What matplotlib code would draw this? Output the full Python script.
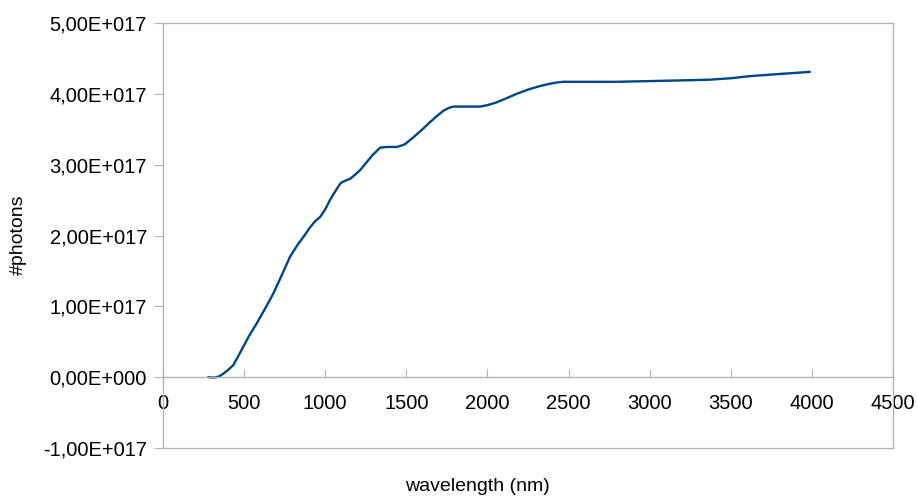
import matplotlib
matplotlib.use("Agg")
import matplotlib.pyplot as plt
import numpy as np

plt.rcParams['font.family'] = ['Liberation Sans', 'DejaVu Sans']

# Data (wavelength in nm, photons in units of 1e17)
wavelength = [279, 300, 320, 345, 372, 400, 433, 460, 495, 530, 578, 630,
              680, 730, 783, 830, 875, 905, 937, 968, 1000, 1029, 1050, 1075,
              1095, 1111, 1130, 1153, 1180, 1214, 1250, 1290, 1338, 1380,
              1420, 1441, 1470, 1492, 1540, 1595, 1646, 1690, 1728, 1760,
              1790, 1850, 1954, 2000, 2057, 2120, 2180, 2250, 2324, 2380,
              2427, 2470, 2509, 2632, 2800, 3002, 3200, 3372, 3500, 3619,
              3800, 3988]
photons_e17 = [0.0, -0.005, -0.005, 0.01, 0.05, 0.10, 0.17, 0.28, 0.43,
               0.58, 0.76, 0.97, 1.18, 1.43, 1.70, 1.87, 2.01, 2.11, 2.20,
               2.26, 2.37, 2.50, 2.58, 2.67, 2.74, 2.76, 2.78, 2.80, 2.85,
               2.92, 3.02, 3.13, 3.24, 3.25, 3.25, 3.25, 3.27, 3.29, 3.38,
               3.49, 3.60, 3.69, 3.76, 3.80, 3.82, 3.82, 3.82, 3.84, 3.88,
               3.94, 4.00, 4.06, 4.11, 4.14, 4.16, 4.17, 4.17, 4.17, 4.17,
               4.18, 4.19, 4.20, 4.22, 4.25, 4.28, 4.31]

xticks = [0, 500, 1000, 1500, 2000, 2500, 3000, 3500, 4000, 4500]
yticks_e17 = [-1, 0, 1, 2, 3, 4, 5]
ytick_labels = ["-1,00E+017", "0,00E+000", "1,00E+017", "2,00E+017",
                "3,00E+017", "4,00E+017", "5,00E+017"]
xlabel = "wavelength (nm)"
ylabel = "#photons"

W, H = 918, 497
fig = plt.figure(figsize=(W / 100, H / 100), dpi=100)
ax = fig.add_axes([163 / W, 1 - 448 / H, (893 - 163) / W, (448 - 23) / H])

x = np.array(wavelength)
y = np.array(photons_e17) * 1e17
ax.plot(x, y, color='#004586', lw=1.7, solid_joinstyle='round',
        solid_capstyle='round')

grey = '#b3b3b3'
ax.set_xlim(0, 4500)
ax.set_ylim(-1e17, 5e17)
ax.set_xticks(xticks)
ax.set_xticklabels([str(v) for v in xticks])
ax.set_yticks([v * 1e17 for v in yticks_e17])
ax.set_yticklabels(ytick_labels)

for s in ax.spines.values():
    s.set_color(grey)
    s.set_linewidth(1.0)
ax.spines['bottom'].set_position(('data', 0))
# bottom frame line
ax.plot([0, 1], [0, 0], transform=ax.transAxes, color=grey, lw=1.0,
        clip_on=False)

ax.tick_params(axis='x', direction='in', length=6, color=grey, pad=12,
               labelsize=14.5, labelcolor='black')
ax.tick_params(axis='y', direction='out', length=6.5, color=grey, pad=5,
               labelsize=14.5, labelcolor='black')

fig.text(18 / W, 1 - 235 / H, ylabel, rotation=90, ha='center', va='center',
         fontsize=14)
fig.text(477 / W, 1 - 491 / H, xlabel, ha='center', va='baseline',
         fontsize=14)

fig.savefig('out.png', dpi=100)
